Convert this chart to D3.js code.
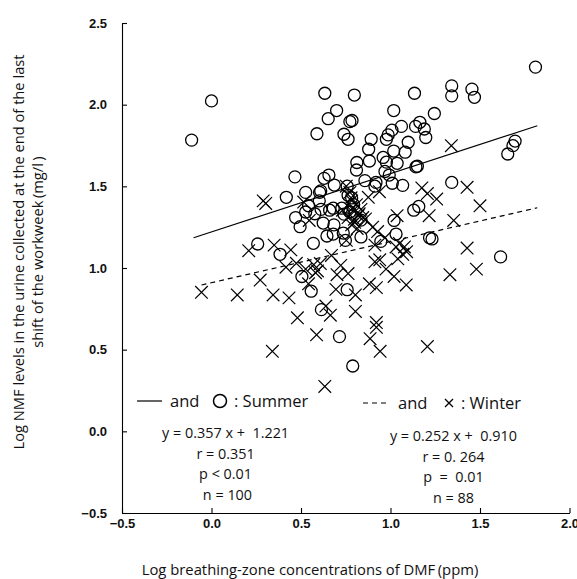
<!DOCTYPE html>
<meta charset="utf-8">
<style>
  body { margin: 0; background: #fff; }
  svg { display: block; }
  text { white-space: pre; }
</style>
<svg width="577" height="579"></svg>
<script src="https://cdn.jsdelivr.net/npm/d3@7"></script>
<script>

// Summer (circles)
var summerX = [-0.111, 0.0, 1.81, 0.633, 0.798, 1.134, 1.342, 1.342, 1.455, 1.469,
  0.699, 1.018, 1.245, 0.652, 0.773, 0.785, 0.589, 0.74, 0.763, 1.008,
  1.061, 1.164, 1.14, 1.189, 1.197, 0.987, 0.977, 0.892, 1.099, 0.878,
  1.018, 1.082, 0.959, 0.882, 0.812, 0.977, 1.037, 1.142, 1.15, 0.81,
  0.969, 0.993, 1.655, 1.684, 1.696, 1.342, 0.466, 0.629, 0.656, 0.857,
  0.919, 0.913, 1.01, 1.068, 0.686, 0.418, 0.526, 0.604, 0.61, 0.758,
  0.763, 0.783, 0.542, 0.526, 0.47, 0.495, 0.577, 0.612, 0.66, 0.68,
  0.728, 0.773, 0.794, 0.624, 0.684, 0.645, 0.68, 0.736, 0.835, 0.748,
  0.569, 0.258, 0.383, 0.946, 1.031, 1.02, 1.13, 1.158, 1.218, 1.232,
  1.615, 0.505, 0.557, 0.758, 0.614, 0.715, 0.789, 0.602, 0.835, 0.74];
var summerY = [1.783, 2.023, 2.23, 2.07, 2.059, 2.07, 2.115, 2.054, 2.095, 2.045,
  1.964, 1.964, 1.946, 1.914, 1.896, 1.903, 1.822, 1.819, 1.788, 1.844,
  1.867, 1.892, 1.867, 1.851, 1.799, 1.815, 1.788, 1.788, 1.77, 1.727,
  1.716, 1.709, 1.677, 1.655, 1.646, 1.648, 1.641, 1.619, 1.623, 1.6,
  1.591, 1.569, 1.698, 1.749, 1.777, 1.524, 1.558, 1.549, 1.569, 1.535,
  1.524, 1.501, 1.519, 1.506, 1.508, 1.433, 1.463, 1.463, 1.472, 1.501,
  1.445, 1.429, 1.381, 1.343, 1.309, 1.253, 1.332, 1.359, 1.354, 1.366,
  1.366, 1.343, 1.388, 1.275, 1.264, 1.196, 1.208, 1.214, 1.19, 1.169,
  1.151, 1.147, 1.084, 1.163, 1.208, 1.291, 1.354, 1.377, 1.185, 1.178,
  1.068, 0.948, 0.858, 0.867, 0.745, 0.58, 0.4, 1.411, 1.293, 1.33];

// Winter (crosses)
var winterX = [-0.056, 0.144, 0.303, 0.289, 0.208, 0.35, 0.443, 0.272, 0.344, 0.433,
  0.416, 0.474, 0.48, 0.34, 0.587, 0.633, 0.571, 0.581, 0.542, 0.592,
  0.639, 0.664, 0.695, 0.701, 0.722, 0.763, 0.804, 0.804, 0.886, 0.921,
  0.921, 0.942, 0.882, 0.921, 0.913, 0.913, 0.928, 1.02, 1.088, 1.041,
  1.068, 1.078, 1.031, 1.206, 1.332, 1.216, 1.258, 1.175, 1.206, 1.353,
  1.34, 1.428, 1.5, 1.428, 1.48, 1.037, 0.938, 0.753, 0.773, 0.783,
  0.81, 0.794, 0.825, 0.798, 0.845, 0.763, 0.783, 0.814, 0.835, 0.732,
  0.546, 0.515, 0.526, 0.753, 0.67, 0.608, 0.969, 0.975, 0.876, 0.8,
  0.82, 0.79, 1.05, 0.86, 0.9, 0.94, 1.09, 0.78];
var winterY = [0.851, 0.835, 1.395, 1.411, 1.106, 1.14, 1.111, 0.926, 0.835, 0.817,
  1.005, 1.029, 0.695, 0.49, 0.591, 0.275, 1.02, 0.971, 0.903, 0.982,
  0.767, 0.711, 0.869, 0.959, 1.016, 0.966, 0.835, 0.734, 0.567, 0.666,
  0.637, 0.49, 0.903, 0.88, 1.038, 1.14, 1.223, 0.948, 0.896, 1.056,
  1.084, 1.129, 1.129, 0.519, 0.959, 1.32, 1.422, 1.49, 1.456, 1.291,
  1.749, 1.494, 1.381, 1.122, 0.993, 1.32, 1.467, 1.501, 1.463, 1.411,
  1.388, 1.354, 1.332, 1.298, 1.309, 1.309, 1.264, 1.242, 1.359, 1.354,
  1.291, 1.404, 0.993, 1.169, 1.077, 1.027, 1.185, 0.993, 1.433, 1.28,
  1.32, 1.37, 1.15, 1.3, 1.25, 1.05, 1.1, 1.43];

var xTicks = [-0.5, 0.0, 0.5, 1.0, 1.5, 2.0];
var yTicks = [-0.5, 0.0, 0.5, 1.0, 1.5, 2.0, 2.5];

// regression fits
var summerFit = {slope: 0.357, intercept: 1.221, x0: -0.1, x1: 1.82};
var winterFit = {slope: 0.252, intercept: 0.910, x0: -0.056, x1: 1.82};
var summerStats = ["y = 0.357 x +  1.221", "r = 0.351", "p < 0.01", " n = 100"];
var winterStats = ["y = 0.252 x +  0.910", "r = 0. 264", "p  =  0.01", "n = 88"];

var svg = d3.select("svg");

var x = d3.scaleLinear().domain([-0.5, 2.0]).range([122, 569.5]);
var y = d3.scaleLinear().domain([-0.5, 2.5]).range([513, 23]);

var labelFont = "'Open Sans', 'Noto Sans', sans-serif";
var tickFont = "'Liberation Sans', Arial, sans-serif";

// axes
var xAxis = svg.append("g")
    .attr("transform", "translate(0," + y(-0.5) + ")")
    .call(d3.axisBottom(x).tickValues(xTicks).tickFormat(function(d) { return d < 0 ? "\u22120.5" : d3.format(".1f")(d); })
      .tickSize(-5).tickSizeOuter(0).tickPadding(6));

var yAxis = svg.append("g")
    .attr("transform", "translate(" + x(-0.5) + ",0)")
    .call(d3.axisLeft(y).tickValues(yTicks).tickFormat(function(d) { return d < 0 ? "\u22120.5" : d3.format(".1f")(d); })
      .tickSize(-5).tickSizeOuter(0).tickPadding(15));

svg.selectAll(".tick text")
    .attr("font-family", tickFont)
    .attr("font-size", 13)
    .attr("font-weight", "bold")
    .attr("fill", "#111");
svg.selectAll(".domain, .tick line").attr("stroke", "#000").attr("stroke-width", 1.1);

// regression lines
function fitLine(f) {
  return [[f.x0, f.slope * f.x0 + f.intercept], [f.x1, f.slope * f.x1 + f.intercept]];
}
var line = d3.line().x(function(d) { return x(d[0]); }).y(function(d) { return y(d[1]); });

svg.append("path").datum(fitLine(summerFit))
    .attr("d", line).attr("fill", "none").attr("stroke", "#000").attr("stroke-width", 1.2);
svg.append("path").datum(fitLine(winterFit))
    .attr("d", line).attr("fill", "none").attr("stroke", "#000").attr("stroke-width", 1.2)
    .attr("stroke-dasharray", "5,4");

// points
var summer = summerX.map(function(v, i) { return [v, summerY[i]]; });
var winter = winterX.map(function(v, i) { return [v, winterY[i]]; });

svg.append("g").selectAll("circle").data(summer).enter().append("circle")
    .attr("cx", function(d) { return x(d[0]); })
    .attr("cy", function(d) { return y(d[1]); })
    .attr("r", 6)
    .attr("fill", "none")
    .attr("stroke", "#000")
    .attr("stroke-width", 1.3);

svg.append("g").selectAll("path").data(winter).enter().append("path")
    .attr("transform", function(d) { return "translate(" + x(d[0]) + "," + y(d[1]) + ")"; })
    .attr("d", function() {
      var h = 6.3;
      return "M" + (-h) + "," + (-h) + "L" + h + "," + h + "M" + (-h) + "," + h + "L" + h + "," + (-h);
    })
    .attr("fill", "none")
    .attr("stroke", "#000")
    .attr("stroke-width", 1.2);

// legend
var lg = svg.append("g").attr("font-family", labelFont).attr("font-size", 16.5).attr("fill", "#111");
lg.append("line").attr("x1", 137).attr("x2", 162).attr("y1", 401).attr("y2", 401).attr("stroke", "#000").attr("stroke-width", 1.2);
lg.append("text").attr("x", 170).attr("y", 407).text("and");
lg.append("circle").attr("cx", 220).attr("cy", 401).attr("r", 6.5).attr("fill", "none").attr("stroke", "#000").attr("stroke-width", 1.5);
lg.append("text").attr("x", 234).attr("y", 407).text(": Summer");

lg.append("line").attr("x1", 363).attr("x2", 388).attr("y1", 403).attr("y2", 403).attr("stroke", "#000").attr("stroke-width", 1.2).attr("stroke-dasharray", "5,4");
lg.append("text").attr("x", 398).attr("y", 409).text("and");
lg.append("path").attr("d", "M445,399L453,407M445,407L453,399").attr("stroke", "#000").attr("stroke-width", 1.3);
lg.append("text").attr("x", 461).attr("y", 409).text(": Winter");

// statistics
var st = svg.append("g").attr("font-family", labelFont).attr("font-size", 14.4).attr("fill", "#111").attr("text-anchor", "middle");
st.selectAll("text.s").data(summerStats).enter().append("text")
    .attr("x", 225.6).attr("y", function(d, i) { return 438 + i * 20.7; }).text(function(d) { return d; });
st.selectAll("text.w").data(winterStats).enter().append("text")
    .attr("x", 453.4).attr("y", function(d, i) { return 441 + i * 20.7; }).text(function(d) { return d; });

// axis titles
svg.append("text")
    .attr("font-family", labelFont).attr("font-size", 14.8).attr("fill", "#111")
    .attr("text-anchor", "middle")
    .attr("x", 310).attr("y", 575)
    .text("Log breathing-zone concentrations of DMF\u2009(ppm)");

var yt = svg.append("text")
    .attr("font-family", labelFont).attr("font-size", 14.7).attr("fill", "#111")
    .attr("text-anchor", "middle")
    .attr("transform", "translate(0,252) rotate(-90)");
yt.append("tspan").attr("x", 0).attr("y", 23.5).text("Log NMF levels in the urine collected at the end of the last");
yt.append("tspan").attr("x", 0).attr("y", 42.5).text("shift of the workweek\u2009(mg/l\u2009)");

</script>
